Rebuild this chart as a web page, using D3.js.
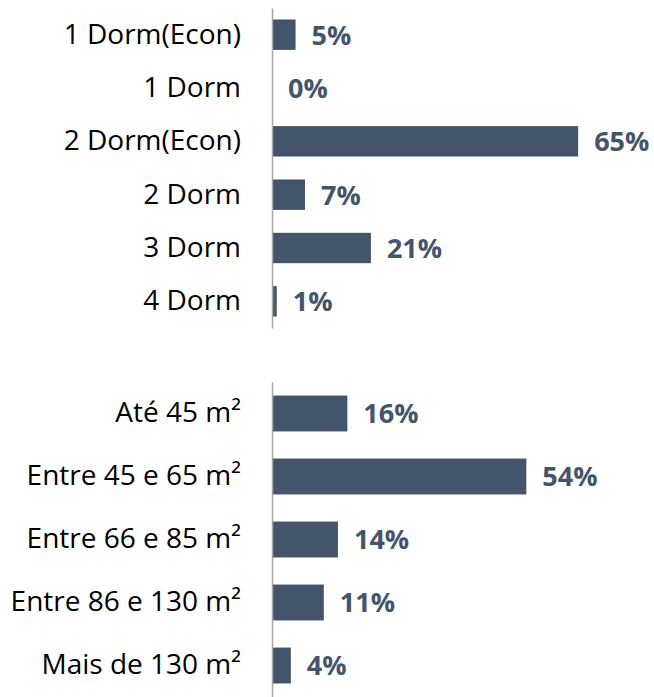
<!DOCTYPE html>
<html>
<head>
<meta charset="utf-8">
<script src="https://cdn.jsdelivr.net/npm/d3@7"></script>
<style>
  body { margin: 0; background: #fff; }
  #chart svg { display: block; }
</style>
</head>
<body>
<div id="chart"></div>
<script>
// Data: dormitory types
const dormCategories = ["1 Dorm(Econ)", "1 Dorm", "2 Dorm(Econ)", "2 Dorm", "3 Dorm", "4 Dorm"];
const dormValues = [5, 0, 65, 7, 21, 1];

// Data: unit size ranges
const areaCategories = ["Até 45 m²", "Entre 45 e 65 m²", "Entre 66 e 85 m²", "Entre 86 e 130 m²", "Mais de 130 m²"];
const areaValues = [16, 54, 14, 11, 4];

const width = 654;
const height = 697;
const axisX = 272;
const barColor = "#44546A";
const fontFamily = "'Open Sans', sans-serif";

const svg = d3.select("#chart").append("svg")
  .attr("width", width)
  .attr("height", height);

// Shared x scale (percent -> px)
const x = d3.scaleLinear()
  .domain([0, 100])
  .range([axisX, axisX + 471]);

function drawPanel(categories, values, top, bottom) {
  const y = d3.scaleBand()
    .domain(categories)
    .range([top, bottom])
    .paddingInner(0.43)
    .paddingOuter(0.215);

  const g = svg.append("g");

  // Bars
  g.selectAll("rect")
    .data(values)
    .enter()
    .append("rect")
    .attr("x", x(0))
    .attr("y", (d, i) => y(categories[i]))
    .attr("width", d => x(d) - x(0))
    .attr("height", y.bandwidth())
    .attr("fill", barColor);

  // Value labels
  g.selectAll("text.value")
    .data(values)
    .enter()
    .append("text")
    .attr("class", "value")
    .attr("x", d => x(d) + 16)
    .attr("y", (d, i) => y(categories[i]) + y.bandwidth() / 2)
    .attr("dy", "0.37em")
    .attr("fill", barColor)
    .attr("font-family", fontFamily)
    .attr("font-weight", "bold")
    .attr("font-size", 27)
    .text(d => d + "%");

  // Category axis
  const axis = d3.axisLeft(y)
    .tickSize(0)
    .tickPadding(31);

  const ag = g.append("g")
    .attr("transform", `translate(${axisX},0)`)
    .call(axis);

  ag.select(".domain")
    .attr("stroke", "#A6A6A6")
    .attr("stroke-width", 1.5);

  ag.selectAll("text")
    .attr("fill", "#000")
    .attr("font-family", fontFamily)
    .attr("font-size", 28);
}

drawPanel(dormCategories, dormValues, 8, 328);
drawPanel(areaCategories, areaValues, 382, 697);
</script>
</body>
</html>
